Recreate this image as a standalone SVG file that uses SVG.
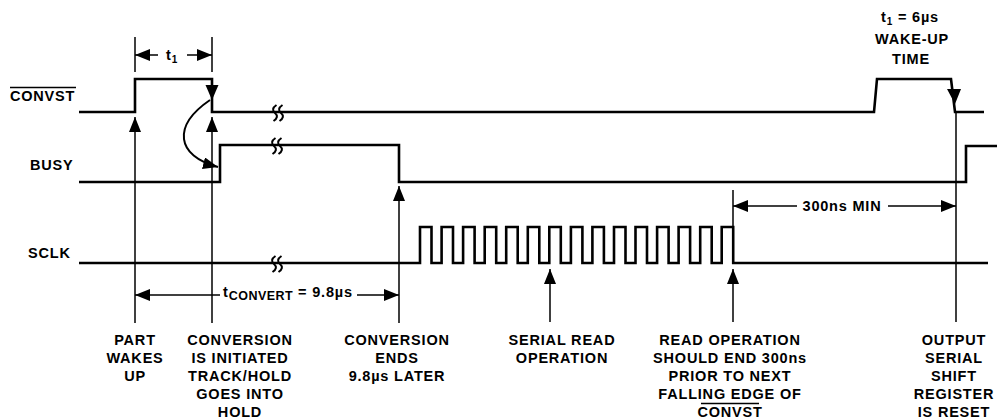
<svg xmlns="http://www.w3.org/2000/svg" width="997" height="420" viewBox="0 0 997 420">
<style>
.sig{fill:none;stroke:#000;stroke-width:2.6;stroke-linejoin:miter}
.ann{fill:none;stroke:#000;stroke-width:1.5}
.brk{fill:none;stroke:#000;stroke-width:2}
text{font-family:"Liberation Sans",Arial,Helvetica,sans-serif;font-weight:bold;font-size:14.5px;letter-spacing:0.8px;fill:#000}
.lbl{text-anchor:middle}
.sub{font-size:10px}
</style>
<defs>
<marker id="ah" viewBox="0 0 15 12" refX="15" refY="6" markerWidth="15" markerHeight="12" markerUnits="userSpaceOnUse" orient="auto"><path d="M0,0 L15,6 L0,12 z" fill="#000"/></marker>
<path id="brk" d="M1.5,-8 q-6,4 -1.5,8 q4.5,4 -1.5,8"/>
</defs>

<g id="labels-left">
<text x="10" y="101" letter-spacing="1.3">CONVST</text>
<line x1="10" y1="87.5" x2="76" y2="87.5" stroke="#000" stroke-width="1.3"/>
<text x="30" y="170">BUSY</text>
<text x="28" y="258">SCLK</text>
</g>

<g id="convst">
<polyline class="sig" points="79,112 135,112 135,79 212,79 212,112 874,112 877,79 951,79 955,112 984,112"/>
<polygon points="205.5,85 218.5,85 212,100" fill="#000"/>
<polygon points="947,89 961,89 955,104" fill="#000"/>
<g class="brk"><use href="#brk" x="275" y="113"/><use href="#brk" x="281" y="113"/></g>
</g>

<g id="busy">
<polyline class="sig" points="79,182 220,182 220,145 399,145 399,182 966,182 966,146 997,146"/>
<g class="brk"><use href="#brk" x="274" y="146"/><use href="#brk" x="280" y="146"/></g>
</g>

<g id="sclk">
<polyline class="sig" points="79,263 420,263 420,227 431.5,227 431.5,263 441.6,263 441.6,227 453,227 453,263 463.1,263 463.1,227 474.6,227 474.6,263 484.7,263 484.7,227 496.2,227 496.2,263 506.2,263 506.2,227 517.7,227 517.7,263 527.8,263 527.8,227 539.3,227 539.3,263 549.3,263 549.3,227 560.8,227 560.8,263 570.9,263 570.9,227 582.4,227 582.4,263 592.4,263 592.4,227 603.9,227 603.9,263 614,263 614,227 625.5,227 625.5,263 635.5,263 635.5,227 647,227 647,263 657.1,263 657.1,227 668.6,227 668.6,263 678.6,263 678.6,227 690.1,227 690.1,263 700.2,263 700.2,227 711.7,227 711.7,263 721.7,263 721.7,227 733.2,227 733.2,263 988,263"/>
<g class="brk"><use href="#brk" x="274" y="264"/><use href="#brk" x="280" y="264"/></g>
</g>

<g id="connectors">
<line class="ann" x1="135" y1="37" x2="135" y2="72"/>
<line class="ann" x1="212" y1="37" x2="212" y2="72"/>
<line class="ann" x1="158" y1="55" x2="135" y2="55" marker-end="url(#ah)"/>
<line class="ann" x1="187" y1="55" x2="212" y2="55" marker-end="url(#ah)"/>
<path d="M210,100 C172,126 176,156 218,167" fill="none" stroke="#000" stroke-width="2" marker-end="url(#ah)"/>
<line class="ann" x1="135" y1="323" x2="135" y2="117" marker-end="url(#ah)"/>
<line class="ann" x1="212" y1="323" x2="212" y2="117" marker-end="url(#ah)"/>
<line class="ann" x1="399" y1="323" x2="399" y2="186" marker-end="url(#ah)"/>
<line class="ann" x1="550" y1="322" x2="550" y2="269" marker-end="url(#ah)"/>
<line class="ann" x1="733" y1="322" x2="733" y2="269" marker-end="url(#ah)"/>
<line class="ann" x1="956" y1="113" x2="956" y2="322"/>
<line class="ann" x1="220" y1="295" x2="135" y2="295" marker-end="url(#ah)"/>
<line class="ann" x1="357" y1="295" x2="399" y2="295" marker-end="url(#ah)"/>
<line class="ann" x1="733" y1="190" x2="733" y2="227"/>
<line class="ann" x1="797" y1="206" x2="733" y2="206" marker-end="url(#ah)"/>
<line class="ann" x1="888" y1="206" x2="956" y2="206" marker-end="url(#ah)"/>
</g>

<g id="dim-labels">
<text x="166" y="60" font-size="16">t<tspan class="sub" dy="3">1</tspan></text>
<text x="223" y="297" font-size="16">t<tspan font-size="12.5" dy="3" letter-spacing="0.5">CONVERT</tspan><tspan font-size="14.5" dy="-3"> = 9.8µs</tspan></text>
<text x="842" y="211" class="lbl">300ns MIN</text>
<text x="910" y="22" class="lbl" font-size="15.5">t<tspan class="sub" dy="3">1</tspan><tspan font-size="14.5" dy="-3"> = 6µs</tspan></text>
<text x="912" y="44" class="lbl">WAKE-UP</text>
<text x="911" y="64" class="lbl">TIME</text>
</g>

<g id="note-part-wakes">
<text class="lbl" x="135" y="345">PART</text>
<text class="lbl" x="135" y="363">WAKES</text>
<text class="lbl" x="135" y="381">UP</text>
</g>
<g id="note-conv-init">
<text class="lbl" x="240" y="345">CONVERSION</text>
<text class="lbl" x="240" y="363">IS INITIATED</text>
<text class="lbl" x="240" y="381">TRACK/HOLD</text>
<text class="lbl" x="240" y="399">GOES INTO</text>
<text class="lbl" x="240" y="417">HOLD</text>
</g>
<g id="note-conv-ends">
<text class="lbl" x="397" y="345">CONVERSION</text>
<text class="lbl" x="397" y="363">ENDS</text>
<text class="lbl" x="397" y="381">9.8µs LATER</text>
</g>
<g id="note-serial-read">
<text class="lbl" x="562" y="345">SERIAL READ</text>
<text class="lbl" x="562" y="363">OPERATION</text>
</g>
<g id="note-read-end">
<text class="lbl" x="730" y="345">READ OPERATION</text>
<text class="lbl" x="730" y="363">SHOULD END 300ns</text>
<text class="lbl" x="730" y="381">PRIOR TO NEXT</text>
<text class="lbl" x="730" y="399">FALLING EDGE OF</text>
<text class="lbl" x="730" y="417">CONVST</text>
<line x1="701" y1="403.5" x2="759" y2="403.5" stroke="#000" stroke-width="1.3"/>
</g>
<g id="note-reset">
<text class="lbl" x="954" y="345">OUTPUT</text>
<text class="lbl" x="954" y="363">SERIAL</text>
<text class="lbl" x="954" y="381">SHIFT</text>
<text class="lbl" x="954" y="399">REGISTER</text>
<text class="lbl" x="954" y="417">IS RESET</text>
</g>
</svg>
